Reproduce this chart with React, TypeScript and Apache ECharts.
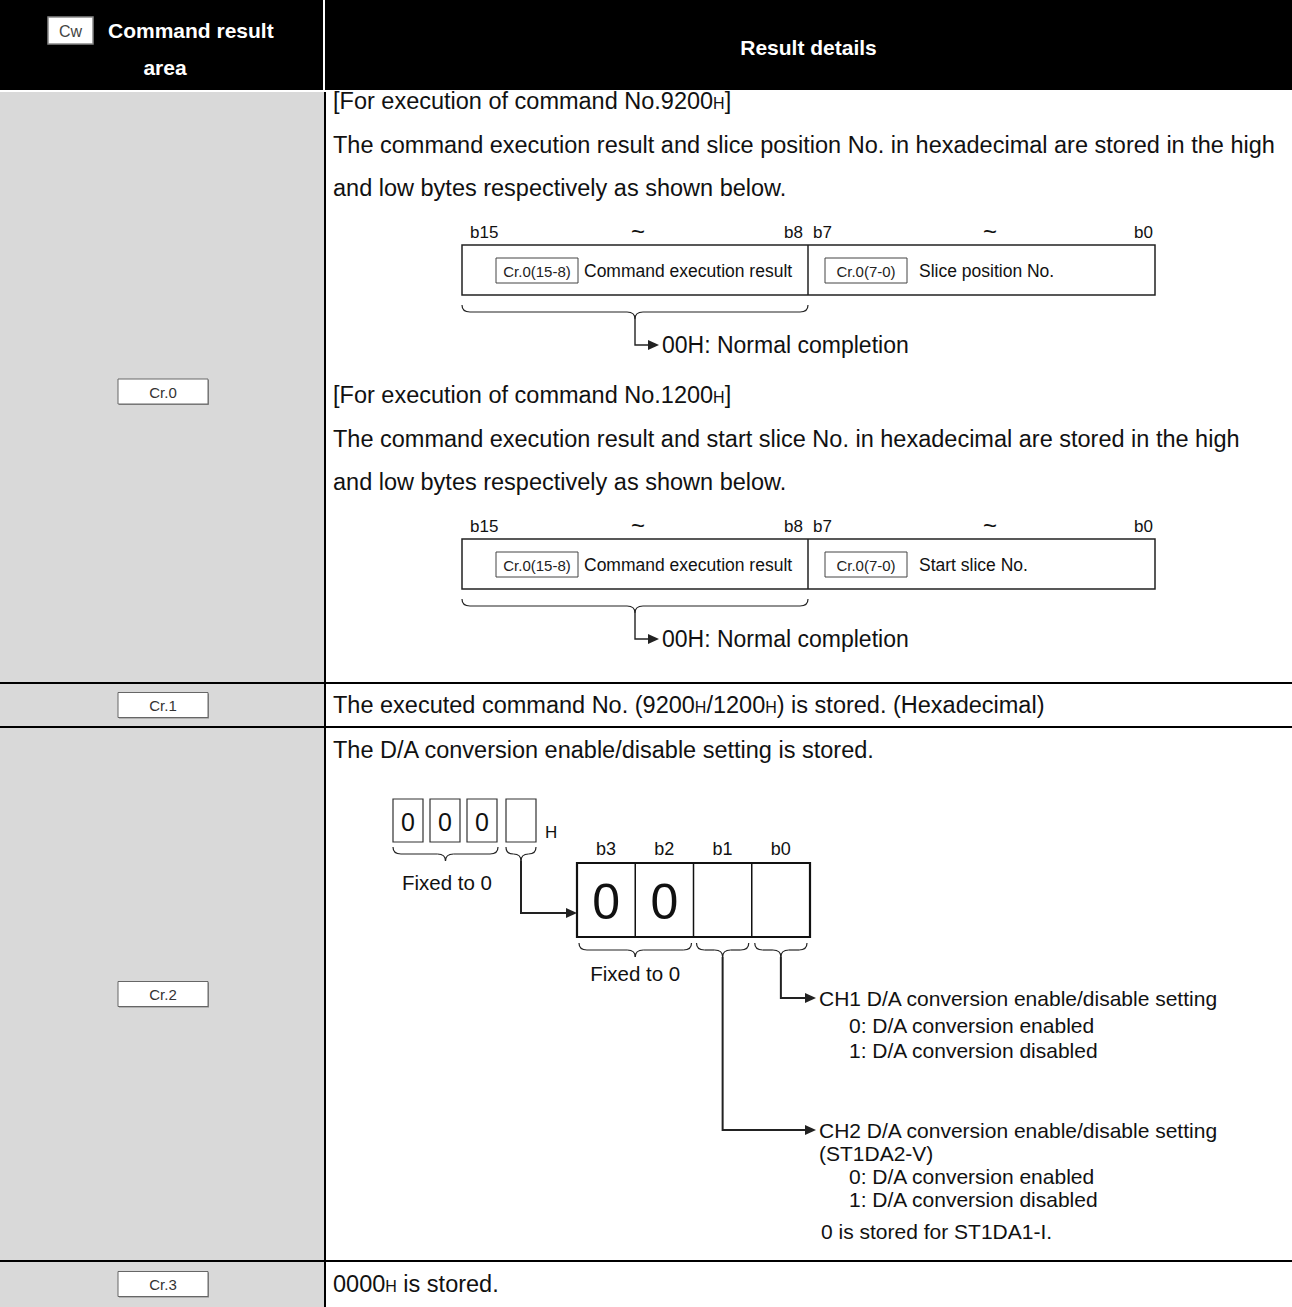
import React, { useEffect, useRef } from "react";
import * as echarts from "echarts";

// ---------- content ----------
const headerLeftLines = ["Command result", "area"];
const headerTag = "Cw";
const headerRight = "Result details";
const rowLabels = ["Cr.0", "Cr.1", "Cr.2", "Cr.3"];

const cr0Titles = ["[For execution of command No.9200{h|H}]", "[For execution of command No.1200{h|H}]"];
const cr0Desc = [
  ["The command execution result and slice position No. in hexadecimal are stored in the high", "and low bytes respectively as shown below."],
  ["The command execution result and start slice No. in hexadecimal are stored in the high", "and low bytes respectively as shown below."],
];
const bitHeads16 = ["b15", "~", "b8", "b7", "~", "b0"];
const fieldTags = ["Cr.0(15-8)", "Cr.0(7-0)"];
const highField = "Command execution result";
const lowFields = ["Slice position No.", "Start slice No."];
const completionText = "00H: Normal completion";

const cr1Text = "The executed command No. (9200{h|H}/1200{h|H}) is stored. (Hexadecimal)";
const cr2Intro = "The D/A conversion enable/disable setting is stored.";
const hexDigits = ["0", "0", "0", ""];
const hexSuffix = "H";
const bits4 = ["b3", "b2", "b1", "b0"];
const bitValues = ["0", "0", "", ""];
const fixedText = "Fixed to 0";
const ch1Lines = ["CH1 D/A conversion enable/disable setting", "0: D/A conversion enabled", "1: D/A conversion disabled"];
const ch2Lines = ["CH2 D/A conversion enable/disable setting", "(ST1DA2-V)", "0: D/A conversion enabled", "1: D/A conversion disabled"];
const cr2Note = "0 is stored for ST1DA1-I.";
const cr3Text = "0000{h|H} is stored.";

// ---------- layout ----------
const W = 1292;
const H = 1307;
const FONT = '"Liberation Sans", Arial, Helvetica, sans-serif';
const INK = "#111";
const LINE = "#222";
const COLX = 325;
const HEADER_H = 90;
const rowEdges = [92, 683, 727, 1261, 1307];
const BODY = 23.5;

function txt(x: number, y: number, text: string, size: number, extra: any = {}) {
  const style: any = {
    text,
    fontSize: size,
    fontFamily: FONT,
    fill: extra.fill || INK,
    fontWeight: extra.bold ? "bold" : "normal",
    textAlign: extra.align || "left",
    textVerticalAlign: "middle",
  };
  if (text.indexOf("{h|") >= 0) {
    style.rich = {
      h: { fontSize: Math.round(size * 0.68), fontFamily: FONT, fill: extra.fill || INK, verticalAlign: "bottom", padding: [0, 0, 2, 0] },
    };
  }
  return { type: "text", x, y, silent: true, style };
}

function line(x1: number, y1: number, x2: number, y2: number, w = 1.5, c = LINE) {
  return { type: "line", silent: true, shape: { x1, y1, x2, y2 }, style: { stroke: c, lineWidth: w } };
}

function rect(x: number, y: number, w: number, h: number, stroke = LINE, lw = 1.2, fill = "none") {
  return { type: "rect", silent: true, shape: { x, y, width: w, height: h }, style: { stroke, lineWidth: lw, fill } };
}

function curve(x1: number, y1: number, x2: number, y2: number, cx: number, cy: number) {
  return {
    type: "bezierCurve",
    silent: true,
    shape: { x1, y1, x2, y2, cpx1: cx, cpy1: cy },
    style: { stroke: LINE, lineWidth: 1.2, fill: "none" },
  };
}

// horizontal curly brace opening upward, tip down
function brace(xa: number, xb: number, y0: number) {
  const r = Math.min(8, (xb - xa) / 4);
  const y1 = y0 + 7;
  const y2 = y0 + 14;
  const xm = (xa + xb) / 2;
  return [
    curve(xa, y0, xa + r, y1, xa, y1),
    line(xa + r, y1, xm - r, y1, 1.2),
    curve(xm - r, y1, xm, y2, xm, y1),
    curve(xm, y2, xm + r, y1, xm, y1),
    line(xm + r, y1, xb - r, y1, 1.2),
    curve(xb - r, y1, xb, y0, xb, y1),
  ];
}

function arrowHead(xTip: number, y: number) {
  return {
    type: "polygon",
    silent: true,
    shape: { points: [[xTip - 11, y - 5], [xTip, y], [xTip - 11, y + 5]] },
    style: { fill: LINE, stroke: "none" },
  };
}

function tagBox(cx: number, cy: number, w: number, h: number, label: string, size: number) {
  return [
    rect(cx - w / 2, cy - h / 2, w, h, "#444", 1, "#fff"),
    txt(cx, cy + 0.5, label, size, { align: "center", fill: "#222" }),
  ];
}

function buildElements() {
  const els: any[] = [];
  // backgrounds
  els.push({ type: "rect", silent: true, shape: { x: 0, y: 0, width: W, height: H }, style: { fill: "#fff" } });
  els.push({ type: "rect", silent: true, shape: { x: 0, y: 0, width: W, height: HEADER_H }, style: { fill: "#000" } });
  els.push({ type: "rect", silent: true, shape: { x: 0, y: rowEdges[0], width: COLX - 1, height: H - rowEdges[0] }, style: { fill: "#d9d9d9" } });
  els.push(line(COLX - 1, 0, COLX - 1, HEADER_H, 2, "#fff"));
  els.push(line(COLX, rowEdges[0], COLX, H, 2, "#000"));
  for (let i = 1; i < rowEdges.length - 1; i++) els.push(line(0, rowEdges[i], W, rowEdges[i], 2.2, "#000"));

  // header
  els.push(rect(48, 17, 45, 27, "#888", 1.5, "#fff"));
  els.push(txt(70.5, 31, headerTag, 16, { align: "center", fill: "#444" }));
  els.push(txt(108, 30, headerLeftLines[0], 21, { bold: true, fill: "#fff" }));
  els.push(txt(165, 67, headerLeftLines[1], 21, { bold: true, fill: "#fff", align: "center" }));
  els.push(txt((COLX + W) / 2, 47, headerRight, 21, { bold: true, fill: "#fff", align: "center" }));

  // row labels
  rowLabels.forEach((lab, i) => {
    const cy = (rowEdges[i] + rowEdges[i + 1]) / 2 + (i === 0 ? 4 : 0);
    els.push({ type: "rect", silent: true, shape: { x: 119, y: cy - 11.5, width: 90, height: 25 }, style: { fill: "#888" } });
    els.push(rect(118, cy - 12.5, 90, 25, "#666", 1, "#fff"));
    els.push(txt(163, cy + 0.5, lab, 15, { align: "center", fill: "#333" }));
  });

  // Cr.0 two sections
  const TX = 333;
  [0, 1].forEach((k) => {
    const dy = k * 294;
    els.push(txt(TX, 101 + dy, cr0Titles[k], BODY));
    els.push(txt(TX, 145 + dy, cr0Desc[k][0], BODY));
    els.push(txt(TX, 188 + dy, cr0Desc[k][1], BODY));
    // bit heads
    const by = 232 + dy;
    els.push(txt(470, by, bitHeads16[0], 17));
    els.push(txt(638, by - 1, bitHeads16[1], 24, { align: "center" }));
    els.push(txt(803, by, bitHeads16[2], 17, { align: "right" }));
    els.push(txt(813, by, bitHeads16[3], 17));
    els.push(txt(990, by - 1, bitHeads16[4], 24, { align: "center" }));
    els.push(txt(1153, by, bitHeads16[5], 17, { align: "right" }));
    // word box
    const top = 245 + dy;
    els.push(rect(462, top, 693, 50, LINE, 1.5));
    els.push(line(808, top, 808, top + 50, 1.5));
    els.push(...tagBox(537, top + 25.5, 82, 25, fieldTags[0], 15));
    els.push(txt(584, top + 25.5, highField, 17.5));
    els.push(...tagBox(866, top + 25.5, 82, 25, fieldTags[1], 15));
    els.push(txt(919, top + 25.5, lowFields[k], 17.5));
    // brace + arrow
    const b0 = 305 + dy;
    els.push(...brace(462, 808, b0));
    const xm = 635;
    const ay = 345 + dy;
    els.push({ type: "polyline", silent: true, shape: { points: [[xm, b0 + 14], [xm, ay], [xm + 14, ay]] }, style: { stroke: LINE, lineWidth: 1.4, fill: "none" } });
    els.push(arrowHead(xm + 24, ay));
    els.push(txt(xm + 27, ay, completionText, 23));
  });

  // Cr.1
  els.push(txt(TX, 705, cr1Text, BODY));

  // Cr.2
  els.push(txt(TX, 750, cr2Intro, BODY));
  const hexX = [393, 430, 467, 506];
  hexDigits.forEach((d, i) => {
    els.push(rect(hexX[i], 799, 30, 43, "#333", 1.2));
    if (d) els.push(txt(hexX[i] + 15, 822, d, 25, { align: "center" }));
  });
  els.push(txt(545, 832, hexSuffix, 17));
  els.push(...brace(393, 498, 847));
  els.push(...brace(506, 536, 847));
  els.push(txt(447, 882, fixedText, 20.5, { align: "center" }));
  // arrow to nibble box
  els.push({ type: "polyline", silent: true, shape: { points: [[521, 861], [521, 913], [566, 913]] }, style: { stroke: LINE, lineWidth: 2, fill: "none" } });
  els.push(arrowHead(577, 913));
  // nibble box
  const nx = 577;
  const cw = 58.25;
  const ny = 863;
  els.push(rect(nx, ny, cw * 4, 74, "#111", 2.2));
  for (let i = 1; i < 4; i++) els.push(line(nx + cw * i, ny, nx + cw * i, ny + 74, 1.5, "#111"));
  bits4.forEach((b, i) => {
    els.push(txt(nx + cw * (i + 0.5), 849, b, 18, { align: "center" }));
    if (bitValues[i]) els.push(txt(nx + cw * (i + 0.5), 902, bitValues[i], 50, { align: "center" }));
  });
  els.push(...brace(nx + 2, nx + cw * 2 - 2, 943));
  els.push(...brace(nx + cw * 2 + 3, nx + cw * 3 - 3, 943));
  els.push(...brace(nx + cw * 3 + 3, nx + cw * 4 - 3, 943));
  els.push(txt(nx + cw, 973, fixedText, 20.5, { align: "center" }));
  const t1 = nx + cw * 3.5;
  const t2 = nx + cw * 2.5;
  els.push({ type: "polyline", silent: true, shape: { points: [[t1, 957], [t1, 998], [806, 998]] }, style: { stroke: LINE, lineWidth: 2, fill: "none" } });
  els.push(arrowHead(816, 998));
  els.push({ type: "polyline", silent: true, shape: { points: [[t2, 957], [t2, 1130], [806, 1130]] }, style: { stroke: LINE, lineWidth: 2, fill: "none" } });
  els.push(arrowHead(816, 1130));
  const CHS = 21;
  els.push(txt(819, 998, ch1Lines[0], CHS));
  els.push(txt(849, 1025, ch1Lines[1], CHS));
  els.push(txt(849, 1050, ch1Lines[2], CHS));
  els.push(txt(819, 1130, ch2Lines[0], CHS));
  els.push(txt(819, 1153, ch2Lines[1], CHS));
  els.push(txt(849, 1176, ch2Lines[2], CHS));
  els.push(txt(849, 1199, ch2Lines[3], CHS));
  els.push(txt(821, 1231, cr2Note, CHS));

  // Cr.3
  els.push(txt(TX, 1284, cr3Text, BODY));
  return els;
}

export default function App() {
  const ref = useRef<HTMLDivElement>(null);
  useEffect(() => {
    if (!ref.current) return;
    const chart = echarts.init(ref.current, null, { renderer: "svg" });
    chart.setOption({
      animation: false,
      graphic: { elements: buildElements() },
    });
    return () => chart.dispose();
  }, []);
  return (
    <div
      ref={ref}
      style={{ position: "absolute", left: 0, top: 0, width: W, height: H, background: "#fff" }}
    />
  );
}
